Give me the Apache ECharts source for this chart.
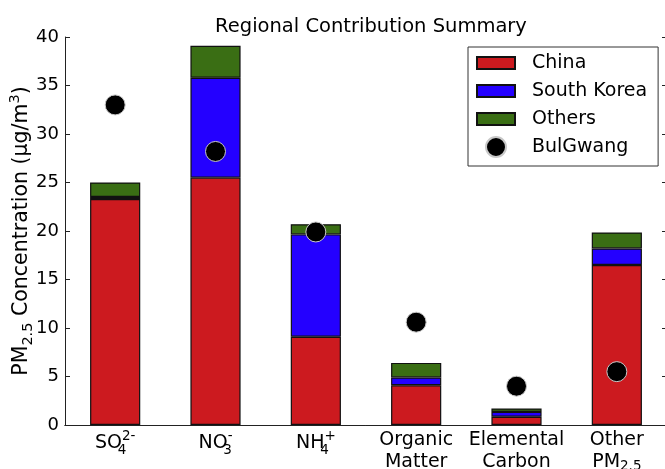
<!DOCTYPE html>
<html>
<head>
<meta charset="utf-8">
<script src="https://cdn.jsdelivr.net/npm/echarts@6/dist/echarts.min.js"></script>
<style>
  html, body { margin: 0; padding: 0; background: #fff; }
  #chart { width: 665px; height: 469px; }
</style>
</head>
<body>
<div id="chart"></div>
<script>
// Species on the x axis
var categories = ['SO4 2-', 'NO3 -', 'NH4 +', 'Organic Matter', 'Elemental Carbon', 'Other PM2.5'];
// Rich-text tick labels (sub/superscripts)
var tickLabels = [
  '{s|SO}{lo|4}{hi|2-}',
  '{s|NO}{lo|3}{hi|-}',
  '{s|NH}{lo|4}{hi|+}',
  '{p|Organic}\n{p|Matter}',
  '{p|Elemental}\n{p|Carbon}',
  '{p|Other}\n{p|PM}{sub|2.5}'
];
// Contributions by source region (µg/m³)
var china = [23.3, 25.5, 9.1, 4.1, 0.85, 16.5];
var southKorea = [0.2, 10.3, 10.55, 0.8, 0.5, 1.7];
var others = [1.5, 3.3, 1.05, 1.5, 0.35, 1.65];
// Observed concentrations at BulGwang
var bulgwang = [33.0, 28.2, 19.9, 10.6, 4.0, 5.5];
var yTicks = { min: 0, max: 40, interval: 5 };

var FONT = 'DejaVu Sans';
// Swatch with transparent margins so it sits 12px tall inside a 38x20 legend cell
var swatch = 'path://M0,0M0,4L38,4L38,16L0,16ZM38,20';

var chart = echarts.init(document.getElementById('chart'), null, { renderer: 'canvas' });

var barStyle = function (color) {
  return { color: color, borderColor: '#111', borderWidth: 1.2 };
};

chart.setOption({
  animation: false,
  backgroundColor: '#fff',
  textStyle: { fontFamily: FONT, color: '#000' },
  title: {
    text: 'Regional Contribution Summary',
    left: 366, textAlign: 'center', top: 12,
    textStyle: { fontFamily: FONT, fontSize: 19.5, fontWeight: 'normal', color: '#000' }
  },
  legend: {
    orient: 'vertical',
    left: 468, top: 47,
    padding: [5, 11, 8, 8],
    itemGap: 6,
    itemWidth: 38, itemHeight: 20,
    borderColor: '#333', borderWidth: 1, borderRadius: 0,
    backgroundColor: '#fff',
    textStyle: { fontFamily: FONT, fontSize: 19, lineHeight: 20, color: '#000', padding: [0, 0, 0, 12] },
    data: [
      { name: 'China', icon: swatch },
      { name: 'South Korea', icon: swatch },
      { name: 'Others', icon: swatch },
      { name: 'BulGwang', icon: 'circle' }
    ]
  },
  grid: { left: 65, top: 37, width: 602, height: 388, containLabel: false, outerBoundsMode: 'none' },
  xAxis: [
    {
      type: 'category', data: categories, position: 'bottom',
      axisLine: { lineStyle: { color: '#222', width: 1 } },
      axisTick: { inside: true, alignWithLabel: true, length: 5, lineStyle: { color: '#222' } },
      axisLabel: {
        margin: 4, interval: 0,
        formatter: function (v, i) { return tickLabels[i]; },
        rich: {
          s: { fontFamily: FONT, fontSize: 19, color: '#000', lineHeight: 28 },
          lo: { fontFamily: FONT, fontSize: 13.5, color: '#000', lineHeight: 13, verticalAlign: 'bottom', width: 0 },
          hi: { fontFamily: FONT, fontSize: 13.5, color: '#000', lineHeight: 13, verticalAlign: 'top' },
          p: { fontFamily: FONT, fontSize: 19, color: '#000', lineHeight: 22 },
          sub: { fontFamily: FONT, fontSize: 13.5, color: '#000', lineHeight: 13, verticalAlign: 'bottom' }
        }
      },
      splitLine: { show: false }
    },
    {
      type: 'category', data: categories, position: 'top',
      axisLine: { lineStyle: { color: '#222', width: 1 } },
      axisTick: { inside: true, alignWithLabel: true, length: 5, lineStyle: { color: '#222' } },
      axisLabel: { show: false },
      splitLine: { show: false }
    }
  ],
  yAxis: [
    {
      type: 'value', min: yTicks.min, max: yTicks.max, interval: yTicks.interval, position: 'left',
      name: '{n|PM}{sub|2.5}{n| Concentration (μg/m}{sup|3}{n|)}',
      nameLocation: 'middle', nameGap: 29, nameRotate: 90, nameMoveOverlap: false,
      nameTextStyle: {
        rich: {
          n: { fontFamily: FONT, fontSize: 20.5, color: '#000', lineHeight: 28 },
          sub: { fontFamily: FONT, fontSize: 14.5, color: '#000', lineHeight: 14, verticalAlign: 'bottom' },
          sup: { fontFamily: FONT, fontSize: 14.5, color: '#000', lineHeight: 14, verticalAlign: 'top' }
        }
      },
      axisLine: { show: true, lineStyle: { color: '#222', width: 1 } },
      axisTick: { show: true, inside: true, length: 5, lineStyle: { color: '#222' } },
      axisLabel: { fontFamily: FONT, fontSize: 18, color: '#000', margin: 6 },
      splitLine: { show: false }
    },
    {
      type: 'value', min: yTicks.min, max: yTicks.max, interval: yTicks.interval, position: 'right',
      axisLine: { show: true, lineStyle: { color: '#222', width: 1 } },
      axisTick: { show: true, inside: true, length: 5, lineStyle: { color: '#222' } },
      axisLabel: { show: false },
      splitLine: { show: false }
    }
  ],
  series: [
    { name: 'China', type: 'bar', stack: 'total', barWidth: '50%', data: china, itemStyle: barStyle('#cc1a1f'), z: 2 },
    { name: 'South Korea', type: 'bar', stack: 'total', barWidth: '50%', data: southKorea, itemStyle: barStyle('#2400ff'), z: 2 },
    { name: 'Others', type: 'bar', stack: 'total', barWidth: '50%', data: others, itemStyle: barStyle('#3a6e14'), z: 2 },
    {
      name: 'BulGwang', type: 'scatter', data: bulgwang, symbol: 'circle', symbolSize: 20,
      itemStyle: { color: '#000', borderColor: '#c8c8c8', borderWidth: 1, opacity: 1 }, z: 5
    }
  ]
});
</script>
</body>
</html>
